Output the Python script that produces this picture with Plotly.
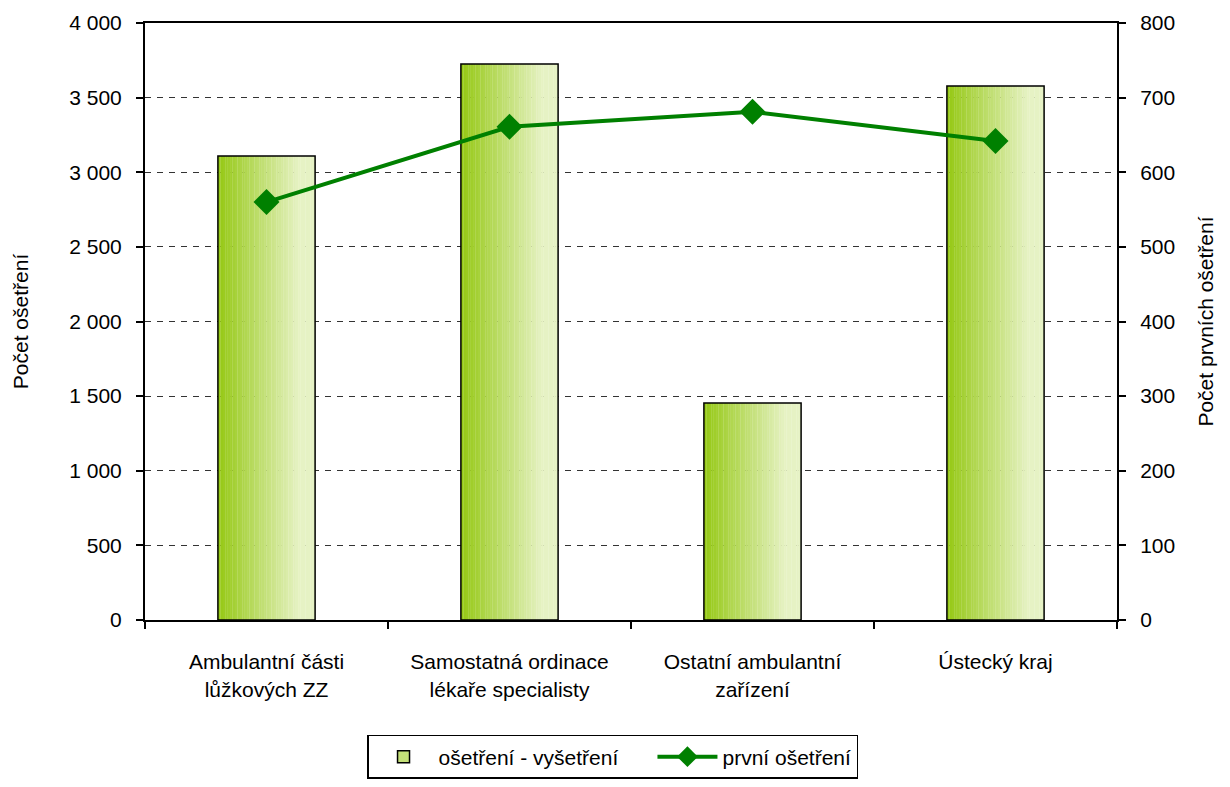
import plotly.graph_objects as go

categories = ["Ambulantní části<br>lůžkových ZZ", "Samostatná ordinace<br>lékaře specialisty",
              "Ostatní ambulantní<br>zařízení", "Ústecký kraj"]
osetreni = [3109, 3725, 1454, 3578]
prvni = [560, 661, 681, 642]

bar_name = "ošetření - vyšetření"
line_name = "první ošetření"

FONT = "Liberation Sans, Arial, sans-serif"
FS = 21
fig = go.Figure()

bw = 0.40
N = 40
c0 = (150, 201, 22)
c1 = (230, 242, 196)
for i in range(N):
    t = i / (N - 1)
    t2 = min(1.0, t / 0.85)
    col = tuple(int(round(c0[k] + (c1[k] - c0[k]) * t2)) for k in range(3))
    fig.add_trace(go.Bar(
        x=categories, y=osetreni, width=bw / N * 1.1, offset=-bw / 2 + i * bw / N,
        marker=dict(color="rgb(%d,%d,%d)" % col, line=dict(width=0)),
        showlegend=False, hoverinfo="skip"))
# outline
fig.add_trace(go.Bar(
    x=categories, y=osetreni, width=bw, offset=-bw / 2,
    marker=dict(color="rgba(0,0,0,0)", line=dict(color="black", width=1.5)),
    showlegend=False, name=bar_name))
# legend entry
fig.add_trace(go.Bar(
    x=[categories[0]], y=[None], name=bar_name + "\u00a0" * 5,
    marker=dict(color="rgb(196,224,120)", line=dict(color="black", width=1.5)),
    showlegend=True))
fig.add_trace(go.Scatter(
    x=categories, y=prvni, name=line_name, yaxis="y2", mode="lines+markers",
    line=dict(color="#008000", width=4),
    marker=dict(symbol="diamond", size=20, color="#008000")))

axis_common = dict(showline=True, linecolor="black", linewidth=2, ticks="outside",
                   ticklen=7, tickcolor="black", tickwidth=1.5, zeroline=False,
                   tickfont=dict(size=FS))
fig.update_layout(
    width=1222, height=779, barmode="overlay", separators=", ",
    paper_bgcolor="white", plot_bgcolor="white",
    font=dict(family=FONT, size=FS, color="black"),
    margin=dict(l=137, r=113, t=15, b=167, autoexpand=False),
    xaxis=dict(mirror=True, tickson="boundaries", range=[-0.5, 3.5],
               ticklabelstandoff=22, **axis_common),
    yaxis=dict(range=[0, 4000], dtick=500, tickformat=",d",
               showgrid=True, gridcolor="#333", griddash="6px,6px", gridwidth=1,
               ticklabelstandoff=10,
               title=dict(text="Počet ošetření", font=dict(size=FS), standoff=35),
               **axis_common),
    yaxis2=dict(range=[0, 800], dtick=100, overlaying="y", side="right",
                showgrid=False, ticklabelstandoff=10,
                title=dict(text="Počet prvních ošetření", font=dict(size=FS), standoff=24),
                **axis_common),
    legend=dict(orientation="h", x=0.481, xanchor="center", y=-0.1926, yanchor="top",
                bordercolor="black", borderwidth=1.5, font=dict(size=FS),
                traceorder="normal", itemwidth=60),
)
fig.write_html("out.html")
